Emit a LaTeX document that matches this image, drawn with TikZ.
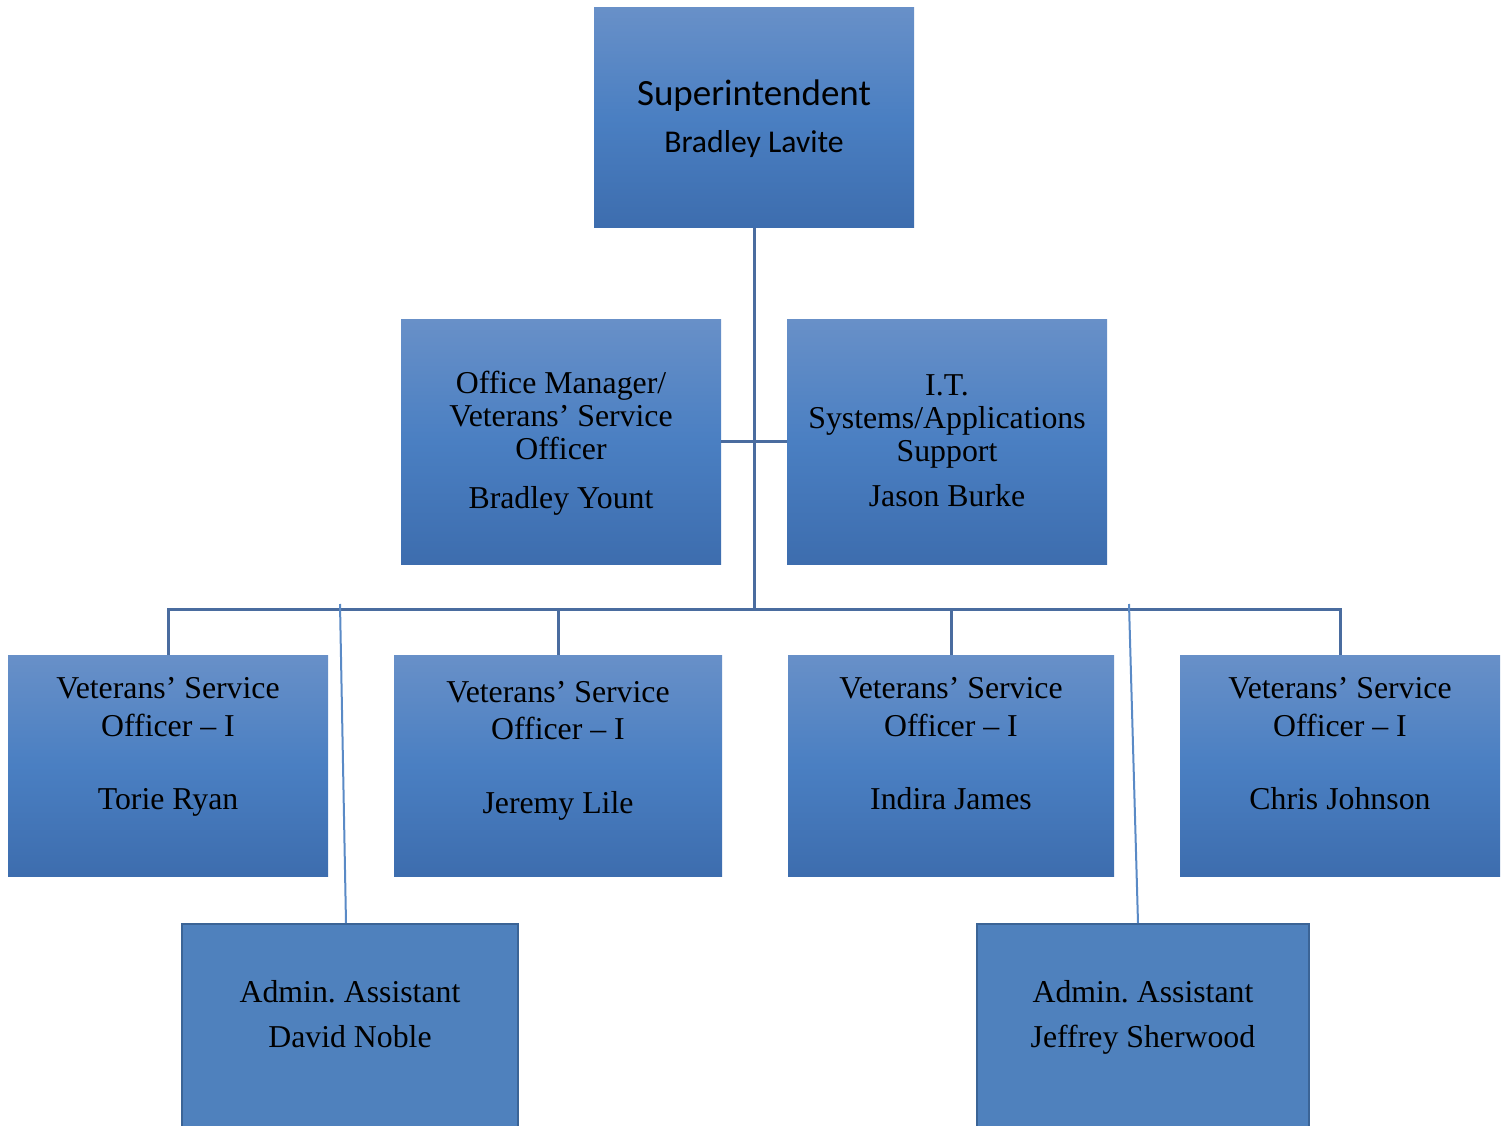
\documentclass[tikz,border=0pt]{standalone}
\usepackage{fontspec}
\setmainfont{Liberation Serif}
\newfontfamily\calibri{Carlito}
\usetikzlibrary{calc}
\frenchspacing
\definecolor{gtop}{HTML}{6890C8}
\definecolor{gmid}{HTML}{4A7FC2}
\definecolor{gbot}{HTML}{3D6DAE}
\definecolor{afill}{HTML}{4F81BD}
\definecolor{aedge}{HTML}{3B6496}
\definecolor{conn}{HTML}{4A6C9F}
\definecolor{slant}{HTML}{5A8AC6}
\tikzset{
  gbox/.style={rectangle, inner sep=0pt, top color=gtop, bottom color=gbot, middle color=gmid, draw=none},
  abox/.style={rectangle, inner sep=0pt, fill=afill, draw=aedge, line width=2pt},
  conline/.style={draw=conn, line width=3pt},
  slline/.style={draw=slant, line width=2pt},
  tx/.style={anchor=base, inner sep=0pt, font=\fontsize{31.8}{36}\selectfont},
}
\begin{document}
\begin{tikzpicture}[x=1pt,y=-1pt]
\useasboundingbox (0,0) rectangle (1505,1126);
\clip (0,0) rectangle (1505,1126);
% boxes
\node[gbox, minimum width=320, minimum height=220] (sup) at (754,118) {};
\node[gbox, minimum width=320, minimum height=245] (om) at (561,441.5) {};
\node[gbox, minimum width=320, minimum height=245] (it) at (947,441.5) {};
\node[gbox, minimum width=320, minimum height=221] (b1) at (168,765.5) {};
\node[gbox, minimum width=328, minimum height=221] (b2) at (558,765.5) {};
\node[gbox, minimum width=326, minimum height=221] (b3) at (951,765.5) {};
\node[gbox, minimum width=320, minimum height=221] (b4) at (1340,765.5) {};
\node[abox, minimum width=336, minimum height=230, anchor=north] (a1) at (350,923) {};
\node[abox, minimum width=332, minimum height=230, anchor=north] (a2) at (1143,923) {};
% connectors
\coordinate (busc) at (754,609);
\draw[conline] (sup.south) -- (busc);
\draw[conline] (om.east) -- (it.west);
\draw[conline] (b1.north) |- (busc);
\draw[conline] (b2.north) |- (busc);
\draw[conline] (b3.north) |- (busc);
\draw[conline] (b4.north) |- (busc);
\coordinate (s1) at (340,604);
\coordinate (s2) at (1129,604);
\draw[slline] (s1) -- ($(a1.north)+(-4,0)$);
\draw[slline] (s2) -- ($(a2.north)+(-5,0)$);
% texts
\node[tx, font=\calibri\fontsize{37}{40}\selectfont] (t-sup1) at (754,106) {Superintendent};
\node[tx, font=\calibri\fontsize{31.7}{36}\selectfont] (t-sup2) at (754,153) {Bradley Lavite};
\node[tx] (t-om1) at (561,393) {Office Manager/};
\node[tx] (t-om2) at (561,426) {Veterans’ Service};
\node[tx] (t-om3) at (561,459) {Officer};
\node[tx] (t-om4) at (561,508) {Bradley Yount};
\node[tx] (t-it1) at (947,395) {I.T.};
\node[tx] (t-it2) at (947,428) {Systems/Applications};
\node[tx] (t-it3) at (947,461) {Support};
\node[tx] (t-it4) at (947,506) {Jason Burke};
\node[tx] (t-b1a) at (168,698) {Veterans’ Service};
\node[tx] (t-b1b) at (168,736) {Officer – I};
\node[tx] (t-b1c) at (168,809) {Torie Ryan};
\node[tx] (t-b2a) at (558,702) {Veterans’ Service};
\node[tx] (t-b2b) at (558,739) {Officer – I};
\node[tx] (t-b2c) at (558,813) {Jeremy Lile};
\node[tx] (t-b3a) at (951,698) {Veterans’ Service};
\node[tx] (t-b3b) at (951,736) {Officer – I};
\node[tx] (t-b3c) at (951,809) {Indira James};
\node[tx] (t-b4a) at (1340,698) {Veterans’ Service};
\node[tx] (t-b4b) at (1340,736) {Officer – I};
\node[tx] (t-b4c) at (1340,809) {Chris Johnson};
\node[tx] (t-a1a) at (350,1002) {Admin. Assistant};
\node[tx] (t-a1b) at (350,1047) {David Noble};
\node[tx] (t-a2a) at (1143,1002) {Admin. Assistant};
\node[tx] (t-a2b) at (1143,1047) {Jeffrey Sherwood};
\end{tikzpicture}
\end{document}
